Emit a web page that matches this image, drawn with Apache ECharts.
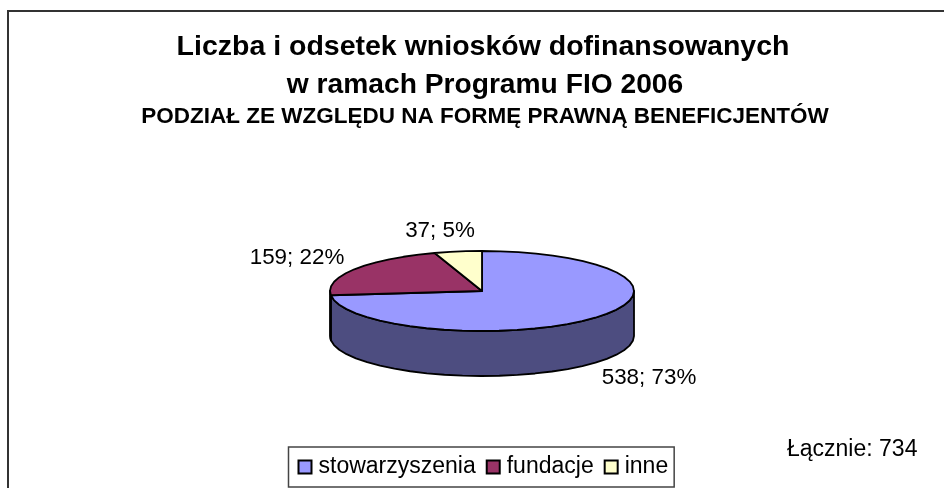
<!DOCTYPE html>
<html><head><meta charset="utf-8">
<style>html,body{margin:0;padding:0;background:#fff}#c{width:944px;height:488px}</style>
<script src="https://cdn.jsdelivr.net/npm/echarts@6/dist/echarts.min.js"></script>
</head><body><div id="c"></div>
<script>
const categories = ['stowarzyszenia', 'fundacje', 'inne'];
const counts = [538, 159, 37];
const percents = [73, 22, 5];
const topColors = ['#9999ff', '#993366', '#ffffcc'];
const sideColors = ['#4d4d80', '#4d1a33', '#808066'];
const titleLines = ['Liczba i odsetek wniosków dofinansowanych', 'w ramach Programu FIO 2006'];
const subtitle = 'PODZIAŁ ZE WZGLĘDU NA FORMĘ PRAWNĄ BENEFICJENTÓW';
const totalLabel = 'Łącznie: 734';

const CX = 482, CY = 291, RX = 152, RY = 40, DEPTH = 45;
const total = counts.reduce((a, b) => a + b, 0);
const pt = (deg, dy) => {
  const t = deg * Math.PI / 180;
  return [CX + RX * Math.sin(t), CY - RY * Math.cos(t) + (dy || 0)];
};
function sliceAngles(i) {
  let s = 0;
  for (let k = 0; k < i; k++) s += counts[k];
  return [s / total * 360, (s + counts[i]) / total * 360];
}
function arc(a, b, dy) {
  const out = [];
  const n = Math.max(2, Math.ceil((b - a) / 7));
  for (let k = 0; k <= n; k++) out.push(pt(a + (b - a) * k / n, dy));
  return out;
}
const lineStyle = { stroke: '#000', lineWidth: 1.8, lineJoin: 'round' };
function renderSlice(i) {
  const [a, b] = sliceAngles(i);
  const children = [];
  // visible wall: the front half of the rim, from 90 to 270 degrees
  const wa = Math.max(a, 90), wb = Math.min(b, 270);
  if (wb > wa) {
    const upper = arc(wa, wb, 0), lower = arc(wa, wb, DEPTH).reverse();
    children.push({ type: 'polygon', shape: { points: upper.concat(lower) },
      style: Object.assign({ fill: sideColors[i] }, lineStyle) });
  }
  children.push({ type: 'polygon', shape: { points: [[CX, CY]].concat(arc(a, b, 0)) },
    style: Object.assign({ fill: topColors[i] }, lineStyle) });
  return { type: 'group', children };
}
const labelPos = [[649, 378], [297, 258], [440, 231]];
const series = categories.map((name, i) => ({
  type: 'custom', name, coordinateSystem: 'none', silent: true, animation: false,
  itemStyle: { color: topColors[i], borderColor: '#000', borderWidth: 1.5 },
  data: [counts[i]],
  renderItem: () => renderSlice(i)
}));
series.push({
  type: 'custom', coordinateSystem: 'none', silent: true, animation: false, z: 5,
  data: counts,
  renderItem: (p, api) => {
    const i = p.dataIndex;
    return { type: 'text', style: {
      x: labelPos[i][0], y: labelPos[i][1], text: api.value(0) + '; ' + percents[i] + '%',
      fill: '#000', font: '22.4px "Liberation Sans"', align: 'center', verticalAlign: 'middle' } };
  }
});
const chart = echarts.init(document.getElementById('c'), null, { renderer: 'canvas' });
chart.setOption({
  animation: false,
  backgroundColor: '#fff',
  title: [
    { text: titleLines[0], left: 478, top: 28, textAlign: 'center', textStyle: { fontFamily: 'Liberation Sans', fontWeight: 'bold', fontSize: 28.5, color: '#000' } },
    { text: titleLines[1], left: 480, top: 66, textAlign: 'center', textStyle: { fontFamily: 'Liberation Sans', fontWeight: 'bold', fontSize: 28.2, color: '#000' } },
    { text: subtitle, left: 480, top: 100, textAlign: 'center', textStyle: { fontFamily: 'Liberation Sans', fontWeight: 'bold', fontSize: 22.5, color: '#000' } },
    { text: totalLabel, left: 782, top: 433, textStyle: { fontFamily: 'Liberation Sans', fontWeight: 'normal', fontSize: 23, color: '#000' } }
  ],
  graphic: [
    { type: 'polyline', shape: { points: [[8, 488], [8, 11], [944, 11]] }, style: { stroke: '#333', lineWidth: 2, fill: null } }
  ],
  legend: {
    data: categories, left: 288.5, top: 447, orient: 'horizontal', icon: 'rect',
    itemWidth: 13, itemHeight: 13, itemGap: 10,
    padding: [8, 6, 8, 9], borderColor: '#444', borderWidth: 1.5, backgroundColor: '#fff',
    textStyle: { fontFamily: 'Liberation Sans', fontSize: 23, lineHeight: 24, color: '#000', padding: [0, 0, 0, 2] }
  },
  series
});
</script></body></html>
